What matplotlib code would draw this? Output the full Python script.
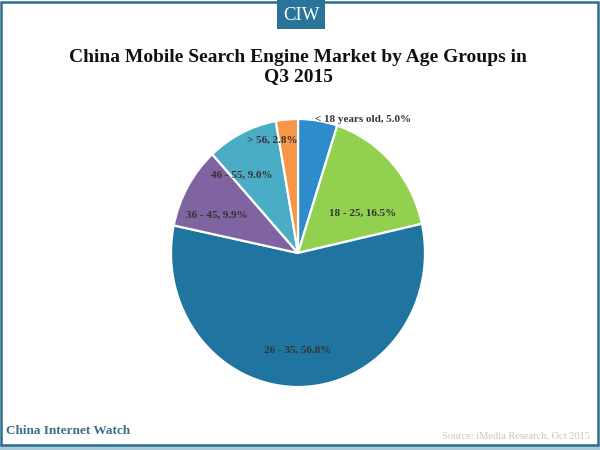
import matplotlib
matplotlib.use('Agg')
from matplotlib import pyplot as plt
from matplotlib.patches import Rectangle

groups = ['< 18 years old', '18 - 25', '26 - 35', '36 - 45', '46 - 55', '> 56']
shares = [5.0, 16.5, 56.8, 9.9, 9.0, 2.8]

colors = ['#2e8ccb', '#92d14f', '#1f759f', '#8063a1', '#4bacc6', '#f79646']
# label centres in picture pixels, same order as groups
label_px = [(363, 119), (363, 213), (298, 350), (217, 215), (242, 175), (272, 140)]

W, H = 600, 450
plt.rcParams['font.family'] = ['Liberation Serif', 'DejaVu Serif']

fig = plt.figure(figsize=(W / 100, H / 100), dpi=100)

def fx(x):
    return x / W

def fy(y):
    return 1 - y / H

# the picture is stretched a bit: pie is taller than wide
rx, ry = 127, 134
ax = fig.add_axes([fx(298 - rx), fy(253 + ry), 2 * rx / W, 2 * ry / H])
ax.pie(shares, colors=colors, startangle=90, counterclock=False, radius=1,
       wedgeprops={'edgecolor': 'white', 'linewidth': 1.6})
ax.set_aspect('auto')
ax.set_xlim(-1, 1)
ax.set_ylim(-1, 1)
ax.set_axis_off()

for g, s, (x, y) in zip(groups, shares, label_px):
    fig.text(fx(x), fy(y), '%s, %.1f%%' % (g, s), ha='center', va='center',
             fontsize=8, fontweight='bold', color='#333333')

fig.text(fx(298), fy(67), 'China Mobile Search Engine Market by Age Groups in\nQ3 2015',
         ha='center', va='center', fontsize=14, fontweight='bold',
         color='#111111', linespacing=1.15)

# shadow under the frame, frame, badge
fig.add_artist(Rectangle((0, 0), 1, 5 / H, transform=fig.transFigure,
                         facecolor='#a8cbdc', edgecolor='none'))
fig.add_artist(Rectangle((fx(1), fy(445)), 597 / W, 443 / H, transform=fig.transFigure,
                         fill=False, edgecolor='#2a6f8e', linewidth=1.8))
fig.add_artist(Rectangle((fx(277), fy(29)), 48 / W, 29 / H, transform=fig.transFigure,
                         facecolor='#2a7499', edgecolor='none'))
fig.text(fx(301), fy(15), 'CIW', ha='center', va='center', fontsize=13.5, color='white')

fig.text(fx(6), fy(431), 'China Internet Watch', ha='left', va='center',
         fontsize=9.5, fontweight='bold', color='#3b6f88')
fig.text(fx(590), fy(436), 'Source: iMedia Research, Oct 2015', ha='right', va='center',
         fontsize=7.5, color='#c4c4c4')

fig.savefig('out.png', dpi=100)
